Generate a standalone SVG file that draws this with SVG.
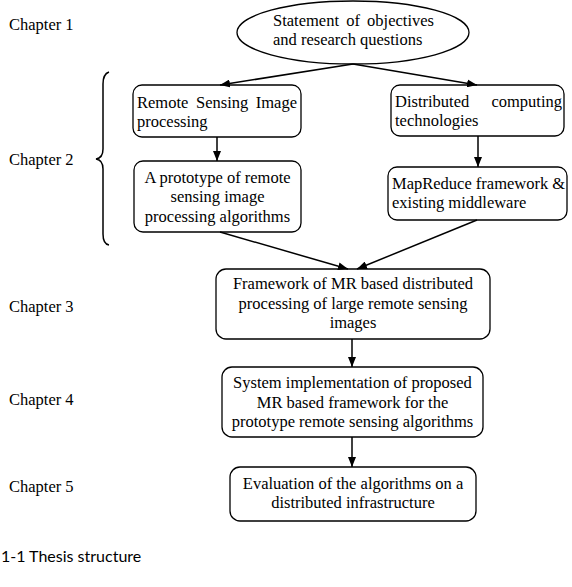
<svg xmlns="http://www.w3.org/2000/svg" width="572" height="587" viewBox="0 0 572 587">
<style>
.box{fill:#fff;stroke:#000;stroke-width:1.3}
.t{font-family:"Liberation Serif","Times New Roman",serif;font-size:16.5px;fill:#000}
.c{text-anchor:middle}
.e{text-anchor:end}
.ln{stroke:#000;stroke-width:1.5;fill:none}
.cap{font-family:Lato,"Noto Sans",sans-serif;font-size:16px;fill:#000}
</style>
<defs>
<marker id="ah" markerWidth="10" markerHeight="8" refX="10" refY="4" orient="auto" markerUnits="userSpaceOnUse">
<path d="M0,0 L10,4 L0,8 Z" fill="#000"/>
</marker>
</defs>
<rect width="572" height="587" fill="#fff"/>
<g id="labels">
<text class="t" x="9" y="30">Chapter 1</text>
<text class="t" x="9" y="165">Chapter 2</text>
<text class="t" x="9" y="312">Chapter 3</text>
<text class="t" x="9" y="405">Chapter 4</text>
<text class="t" x="9" y="492">Chapter 5</text>
<text class="cap" x="1" y="562">1-1 Thesis structure</text>
</g>
<g id="brace">
<path class="ln" stroke-width="1.1" d="M109,72 Q103,74 103,84 L103,149 Q103,158 96,159 Q103,160 103,169 L103,234 Q103,244 109,245"/>
</g>
<g id="n1">
<ellipse class="box" cx="353" cy="32.5" rx="116" ry="31.5"/>
<text class="t" y="26"><tspan x="273">Statement</tspan><tspan x="353" class="c">of</tspan><tspan x="434" class="e">objectives</tspan></text>
<text class="t" x="273" y="45">and research questions</text>
</g>
<g id="n2">
<rect class="box" x="133" y="85" width="168" height="52" rx="9"/>
<text class="t" y="108"><tspan x="137">Remote</tspan><tspan x="196">Sensing</tspan><tspan x="297" class="e">Image</tspan></text>
<text class="t" x="137" y="127">processing</text>
</g>
<g id="n3">
<rect class="box" x="391" y="85" width="173" height="51" rx="9"/>
<text class="t" y="107"><tspan x="395">Distributed</tspan><tspan x="562" class="e">computing</tspan></text>
<text class="t" x="395" y="126">technologies</text>
</g>
<g id="n4">
<rect class="box" x="134" y="161" width="167" height="71" rx="9"/>
<text class="t c" x="217.5" y="183">A prototype of remote</text>
<text class="t c" x="217.5" y="202">sensing image</text>
<text class="t c" x="217.5" y="222">processing algorithms</text>
</g>
<g id="n5">
<rect class="box" x="388" y="167" width="179" height="53" rx="9"/>
<text class="t" x="392" y="189">MapReduce framework &amp;</text>
<text class="t" x="392" y="208">existing middleware</text>
</g>
<g id="n6">
<rect class="box" x="216" y="269" width="274" height="70" rx="10"/>
<text class="t c" x="353" y="289">Framework of MR based distributed</text>
<text class="t c" x="353" y="309">processing of large remote sensing</text>
<text class="t c" x="353" y="328">images</text>
</g>
<g id="n7">
<rect class="box" x="222" y="367" width="261" height="70" rx="10"/>
<text class="t c" x="352.5" y="388">System implementation of proposed</text>
<text class="t c" x="352.5" y="408">MR based framework for the</text>
<text class="t c" x="352.5" y="427">prototype remote sensing algorithms</text>
</g>
<g id="n8">
<rect class="box" x="230" y="467" width="246" height="54" rx="10"/>
<text class="t c" x="353" y="489">Evaluation of the algorithms on a</text>
<text class="t c" x="353" y="508">distributed infrastructure</text>
</g>
<g id="connectors">
<line class="ln" x1="353" y1="64" x2="220" y2="85" marker-end="url(#ah)"/>
<line class="ln" x1="353" y1="64" x2="477" y2="85" marker-end="url(#ah)"/>
<line class="ln" x1="217" y1="137" x2="217" y2="161" marker-end="url(#ah)"/>
<line class="ln" x1="478" y1="136" x2="478" y2="167" marker-end="url(#ah)"/>
<line class="ln" x1="220" y1="232" x2="348" y2="269" marker-end="url(#ah)"/>
<line class="ln" x1="477" y1="220" x2="357" y2="269" marker-end="url(#ah)"/>
<line class="ln" x1="352" y1="339" x2="352" y2="367" marker-end="url(#ah)"/>
<line class="ln" x1="352" y1="437" x2="352" y2="467" marker-end="url(#ah)"/>
</g>
</svg>
